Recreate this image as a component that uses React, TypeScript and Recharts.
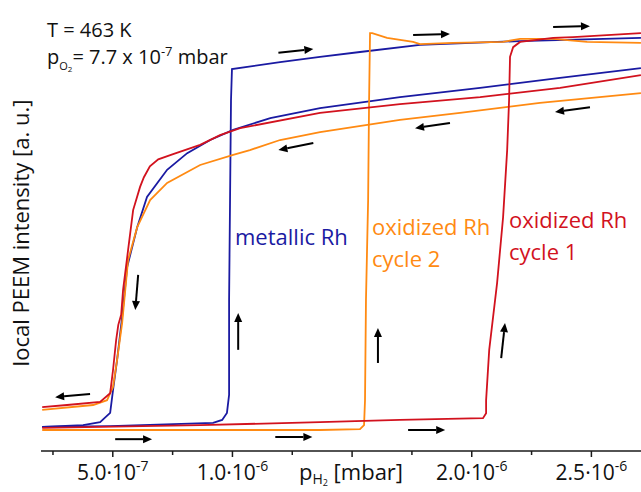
import { LineChart, Line, XAxis, YAxis, ReferenceLine } from 'recharts'

// p in units of 10^-7 mbar, intensity in a.u. (0 = bottom of frame, 100 = top)
type Pt = [number, number]

const metallicUp: Pt[] = [
 [2.05, 5.5], [4.89, 5.7], [9.19, 6.4], [9.57, 7.1], [9.77, 8.7], [9.86, 12.8],
 [9.86, 34.5], [9.9, 57.3], [9.94, 80.1], [9.98, 87.2], [11.99, 88.8], [13.66, 90.0],
 [15.33, 91.1], [17.84, 92.7], [22.02, 93.6], [27.07, 94.3],
]
const metallicDown: Pt[] = [
 [27.07, 87.4], [23.69, 85.2], [20.35, 82.9], [17.0, 80.8], [13.66, 78.3], [11.58, 76.0],
 [10.03, 73.3], [9.07, 71.0], [8.11, 68.0], [7.27, 64.2], [6.43, 58.0], [6.02, 51.1],
 [5.6, 42.0], [5.39, 30.6], [5.18, 20.8], [5.01, 13.9], [4.89, 8.7], [4.47, 6.6],
 [3.76, 5.9], [2.05, 5.5],
]
const cycle1Up: Pt[] = [
 [2.05, 5.3], [8.65, 5.9], [13.66, 6.6], [17.0, 7.1], [20.47, 7.5], [20.6, 8.6],
 [20.6, 11.6], [20.73, 23.1], [21.06, 38.4], [21.31, 53.4], [21.48, 68.7], [21.56, 80.1],
 [21.6, 90.0], [21.73, 92.2], [22.02, 93.4], [23.4, 94.3], [24.23, 94.5], [27.07, 95.4],
]
const cycle1Down: Pt[] = [
 [27.07, 85.8], [23.69, 82.9], [20.35, 80.8], [17.0, 79.2], [13.66, 77.2], [10.32, 73.7],
 [9.48, 72.1], [8.65, 69.9], [7.52, 67.8], [6.9, 66.6], [6.55, 65.0], [6.3, 62.5],
 [6.14, 60.3], [5.85, 55.0], [5.64, 45.9], [5.43, 36.8], [5.35, 31.1], [5.23, 28.8],
 [5.14, 25.3], [5.01, 18.5], [4.89, 13.2], [4.47, 11.2], [3.09, 10.5], [2.05, 10.0],
]
const cycle2Up: Pt[] = [
 [2.05, 4.8], [8.65, 4.8], [13.66, 4.8], [15.33, 5.0], [15.5, 5.9], [15.54, 11.6],
 [15.58, 34.5], [15.67, 57.3], [15.71, 80.1], [15.75, 95.4], [15.84, 95.4], [16.46, 94.3],
 [17.55, 93.4], [17.84, 92.9], [19.22, 93.2], [21.31, 93.4], [22.02, 94.1], [23.4, 94.1],
 [24.82, 93.4], [27.07, 93.2],
]
const cycle2Down: Pt[] = [
 [27.07, 81.7], [22.85, 79.5], [19.51, 77.2], [17.0, 75.6], [13.66, 72.8], [11.99, 71.0],
 [10.73, 68.7], [10.03, 67.6], [8.65, 65.3], [7.27, 61.2], [6.56, 57.3], [6.02, 51.1],
 [5.64, 43.6], [5.39, 29.2], [5.18, 20.8], [5.01, 14.6], [4.76, 11.6], [4.18, 10.5],
 [2.05, 9.4],
]

// direction arrows: [p1, v1, p2, v2], head at the second point
const arrows: [number, number, number, number][] = [
 [11.92, 90.9, 13.38, 91.8], [13.38, 70.3, 11.92, 68.7], [17.55, 95.0, 19.09, 95.2],
 [23.4, 96.8, 24.94, 97.0], [19.09, 74.9, 17.63, 73.7], [24.94, 78.5, 23.48, 77.4],
 [6.06, 40.2, 5.94, 32.2], [10.24, 23.1, 10.24, 31.5], [16.08, 20.1, 16.08, 28.1],
 [21.23, 21.2, 21.39, 29.2], [4.05, 13.0, 2.59, 12.3], [5.1, 2.7, 6.64, 2.7],
 [11.79, 3.2, 13.34, 3.2], [17.34, 4.8, 18.89, 4.8],
]

const xTicks = [2.5, 5, 7.5, 10, 12.5, 15, 17.5, 20, 22.5, 25]
const labeledTicks = [5, 10, 20, 25]

const BLUE = '#1a1aa2'
const ORANGE = '#ff8a12'
const RED = '#d2121e'
const AXIS = '#1a1a1a'
const FONT = '"Open Sans", "Noto Sans", sans-serif'

const toPoints = (pts: Pt[]) => pts.map(([p, v]) => ({ p, v }))

function XTick(props: any) {
 const { x, y, payload } = props
 const val = payload.value as number
 const major = val % 5 === 0
 const show = labeledTicks.includes(val)
 const exp = val >= 10 ? '-6' : '-7'
 const mant = (val >= 10 ? val / 10 : val).toFixed(1)
 return (
 <g>
 <line x1={x} y1={y} x2={x} y2={y + (major ? 6 : 4)} stroke={AXIS} strokeWidth={1.5} />
 {show && (
 <text x={x} y={y + 29} textAnchor="middle" fontFamily={FONT} fontSize={21} fill="#111">
 {mant}·10<tspan dy={-9} fontSize={14}>{exp}</tspan>
 </text>
 )}
 </g>
 )
}

function Arrow(props: any) {
 const { x1, y1, x2, y2 } = props
 const dx = x2 - x1
 const dy = y2 - y1
 const len = Math.hypot(dx, dy) || 1
 const ux = dx / len
 const uy = dy / len
 const head = 9
 const half = 4
 const bx = x2 - ux * head
 const by = y2 - uy * head
 return (
 <g>
 <line x1={x1} y1={y1} x2={bx} y2={by} stroke="#000" strokeWidth={2} />
 <polygon
 points={`${x2},${y2} ${bx - uy * half},${by + ux * half} ${bx + uy * half},${by - ux * half}`}
 fill="#000"
 />
 </g>
 )
}

export default function App() {
 const series = [
 { key: 'mu', data: metallicUp, color: BLUE },
 { key: 'md', data: metallicDown, color: BLUE },
 { key: 'c2u', data: cycle2Up, color: ORANGE },
 { key: 'c2d', data: cycle2Down, color: ORANGE },
 { key: 'c1u', data: cycle1Up, color: RED },
 { key: 'c1d', data: cycle1Down, color: RED },
 ]

 return (
 <div style={{ position: 'fixed', left: 0, top: 0, width: 641, height: 492, overflow: 'hidden', background: '#fff' }}>
 <LineChart width={680} height={492} margin={{ top: 13, right: 35, bottom: 0, left: 41 }}>
 <XAxis
 type="number"
 dataKey="p"
 domain={[2, 27.24]}
 allowDataOverflow
 ticks={xTicks}
 interval={0}
 height={41}
 tickSize={0}
 tickMargin={0}
 tickLine={false}
 tick={<XTick />}
 axisLine={{ stroke: AXIS, strokeWidth: 1.5 }}
 />
 <XAxis
 xAxisId="top"
 orientation="top"
 type="number"
 domain={[2, 27.24]}
 height={0}
 tick={false}
 tickLine={false}
 axisLine={{ stroke: AXIS, strokeWidth: 1.5 }}
 />
 <YAxis
 type="number"
 domain={[0, 100]}
 allowDataOverflow
 width={0}
 tick={false}
 tickLine={false}
 axisLine={{ stroke: AXIS, strokeWidth: 1.5 }}
 />
 {series.map(s => (
 <Line
 key={s.key}
 data={toPoints(s.data)}
 dataKey="v"
 type="linear"
 stroke={s.color}
 strokeWidth={1.8}
 dot={false}
 activeDot={false}
 isAnimationActive={false}
 />
 ))}
 {arrows.map((a, i) => (
 <ReferenceLine
 key={`arrow-${i}`}
 segment={[{ x: a[0], y: a[1] }, { x: a[2], y: a[3] }]}
 shape={Arrow}
 />
 ))}
 </LineChart>
 <svg width={641} height={492} style={{ position: 'absolute', left: 0, top: 0, pointerEvents: 'none' }} fontFamily={FONT}>
 <text x={47} y={37} fontSize={20} fill="#111">T = 463 K</text>
 <text x={47} y={64} fontSize={20} fill="#111">
 p<tspan dy={6} fontSize={11}>O</tspan><tspan dy={2} fontSize={8}>2</tspan>
 <tspan dy={-8} fontSize={20}>= 7.7 x 10</tspan><tspan dy={-8} fontSize={13}>-7</tspan>
 <tspan dy={8} fontSize={20}> mbar</tspan>
 </text>
 <text transform="translate(29, 233) rotate(-90)" textAnchor="middle" fontSize={22} fill="#111">
 local PEEM intensity [a. u.]
 </text>
 <text x={351} y={480} textAnchor="middle" fontSize={22} fill="#111">
 p<tspan dy={4} fontSize={14}>H</tspan><tspan dy={2} fontSize={9}>2</tspan>
 <tspan dy={-6} fontSize={22}> [mbar]</tspan>
 </text>
 <text x={235} y={245} fontSize={22} fill={BLUE}>metallic Rh</text>
 <text x={372} y={235} fontSize={22} fill={ORANGE}>oxidized Rh</text>
 <text x={372} y={267} fontSize={22} fill={ORANGE}>cycle 2</text>
 <text x={509} y={228} fontSize={22} fill={RED}>oxidized Rh</text>
 <text x={509} y={260} fontSize={22} fill={RED}>cycle 1</text>
 </svg>
 </div>
 )
}
